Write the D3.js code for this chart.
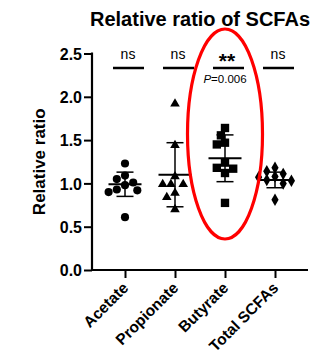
<!DOCTYPE html>
<html lang="en">
<head>
<meta charset="UTF-8">
<title>Relative ratio of SCFAs</title>
<script src="https://d3js.org/d3.v7.min.js"></script>
<style>
    body { margin: 0; background: #fff; }
    text { font-family: "Liberation Sans", Arial, sans-serif; }
</style>
</head>
<body>
<div id="chart"></div>
<script>
    const groups = ["Acetate", "Propionate", "Butyrate", "Total SCFAs"];
    const shapes = ["circle", "triangle", "square", "diamond"];

    // individual values
    const acetate = [1.23, 1.09, 1.05, 1.01, 0.98, 0.93, 0.92, 0.90, 0.61];
    const propionate = [1.92, 1.44, 1.08, 0.99, 0.99, 0.99, 0.89, 0.84, 0.70];
    const butyrate = [1.64, 1.555, 1.47, 1.45, 1.24, 1.18, 1.17, 1.12, 0.775];
    const totalScfa = [1.18, 1.14, 1.11, 1.08, 1.07, 1.04, 1.03, 1.00, 0.81];

    // mean and SD as drawn
    const means = [0.99, 1.10, 1.29, 1.04];
    const sds = [0.14, 0.37, 0.27, 0.09];

    const sigLabels = ["ns", "ns", "**", "ns"];
    const pText = "0.006";
    const yTicks = [0.0, 0.5, 1.0, 1.5, 2.0, 2.5];

    const values = [acetate, propionate, butyrate, totalScfa];

    const width = 326, height = 358;
    const svg = d3.select("#chart").append("svg")
        .attr("width", width)
        .attr("height", height);

    const x = d3.scalePoint().domain(groups).range([92, 308]).padding(0.66);
    const y = d3.scaleLinear().domain([0, 2.5]).range([270, 53.5]);

    // title
    svg.append("text")
        .attr("x", 200).attr("y", 26)
        .attr("text-anchor", "middle")
        .style("font-size", "20px").style("font-weight", "bold")
        .text("Relative ratio of SCFAs");

    // y axis
    const yAxis = svg.append("g")
        .attr("transform", "translate(92,0)")
        .call(d3.axisLeft(y).tickValues(yTicks).tickFormat(d3.format(".1f")).tickSize(8).tickPadding(2));
    yAxis.select(".domain").attr("stroke-width", 2.2).attr("d", "M0," + (y(2.5) - 1) + "V" + (y(0) + 1));
    yAxis.selectAll(".tick line").attr("stroke-width", 2);
    yAxis.selectAll(".tick text")
        .style("font-size", "16px").style("font-weight", "bold")
        .attr("fill", "#000").attr("dy", "0.36em");

    svg.append("text")
        .attr("transform", "translate(45," + ((y(0) + y(2.5)) / 2) + ") rotate(-90)")
        .attr("text-anchor", "middle")
        .style("font-size", "17px").style("font-weight", "bold")
        .text("Relative ratio");

    // x axis
    const xAxis = svg.append("g")
        .attr("transform", "translate(0,270)")
        .call(d3.axisBottom(x).tickSize(8).tickPadding(4));
    xAxis.select(".domain").attr("stroke-width", 2.2).attr("d", "M91,0H308");
    xAxis.selectAll(".tick line").attr("stroke-width", 2);
    xAxis.selectAll(".tick text")
        .style("font-size", "15.5px").style("font-weight", "bold")
        .attr("fill", "#000")
        .attr("text-anchor", "end")
        .attr("dy", "0.35em")
        .attr("transform", "translate(0,15) rotate(-45)")
        .attr("x", 0).attr("y", 0);

    // symbol generators
    const sym = {
        circle: d3.symbol().type(d3.symbolCircle).size(52),
        triangle: d3.symbol().type(d3.symbolTriangle).size(40),
        square: d3.symbol().type(d3.symbolSquare).size(70),
        diamond: d3.symbol().type(d3.symbolDiamond).size(45)
    };

    // simple beeswarm so overlapping points spread sideways
    function swarm(vals, cx) {
        const placed = [];
        const d = 8.2;
        const offsets = [0, -d / 2, d / 2, -d, d, -1.5 * d, 1.5 * d, -2 * d, 2 * d];
        vals.slice().sort((a, b) => b - a).forEach(v => {
            const py = y(v);
            let px = cx;
            for (const o of offsets) {
                const ok = placed.every(p => Math.hypot(p[0] - (cx + o), p[1] - py) >= d);
                if (ok) { px = cx + o; break; }
            }
            placed.push([px, py]);
        });
        return placed;
    }

    groups.forEach((g, i) => {
        const cx = x(g);
        const pts = swarm(values[i], cx);
        svg.append("g").selectAll("path")
            .data(pts)
            .join("path")
            .attr("d", sym[shapes[i]])
            .attr("transform", p => "translate(" + p[0] + "," + p[1] + ")")
            .attr("fill", "#000");

        const eg = svg.append("g").attr("stroke", "#000");
        eg.append("line")
            .attr("x1", cx).attr("x2", cx)
            .attr("y1", y(means[i] + sds[i])).attr("y2", y(means[i] - sds[i]))
            .attr("stroke-width", 1.5);
        [means[i] + sds[i], means[i] - sds[i]].forEach(v => {
            eg.append("line")
                .attr("x1", cx - 8.5).attr("x2", cx + 8.5)
                .attr("y1", y(v)).attr("y2", y(v))
                .attr("stroke-width", 1.5);
        });
        eg.append("line")
            .attr("x1", cx - 16.5).attr("x2", cx + 16.5)
            .attr("y1", y(means[i])).attr("y2", y(means[i]))
            .attr("stroke-width", 2);

        // significance marks
        svg.append("line")
            .attr("x1", cx - 12).attr("x2", cx + 19)
            .attr("y1", 68).attr("y2", 68)
            .attr("stroke", "#000").attr("stroke-width", 2.5);
        if (sigLabels[i] === "**") {
            svg.append("text")
                .attr("x", cx + 2).attr("y", 68)
                .attr("text-anchor", "middle")
                .style("font-size", "21px").style("font-weight", "bold")
                .text(sigLabels[i]);
            const pt = svg.append("text")
                .attr("x", cx).attr("y", 83)
                .attr("text-anchor", "middle")
                .style("font-size", "11.5px");
            pt.append("tspan").style("font-style", "italic").text("P");
            pt.append("tspan").text("=" + pText);
        } else {
            svg.append("text")
                .attr("x", cx + 3).attr("y", 59)
                .attr("text-anchor", "middle")
                .style("font-size", "14px")
                .text(sigLabels[i]);
        }
    });

    // red highlight around Butyrate
    svg.append("ellipse")
        .attr("cx", x("Butyrate")).attr("cy", 134)
        .attr("rx", 37.5).attr("ry", 105)
        .attr("fill", "none")
        .attr("stroke", "#ff0000").attr("stroke-width", 3.2);
</script>
</body>
</html>
